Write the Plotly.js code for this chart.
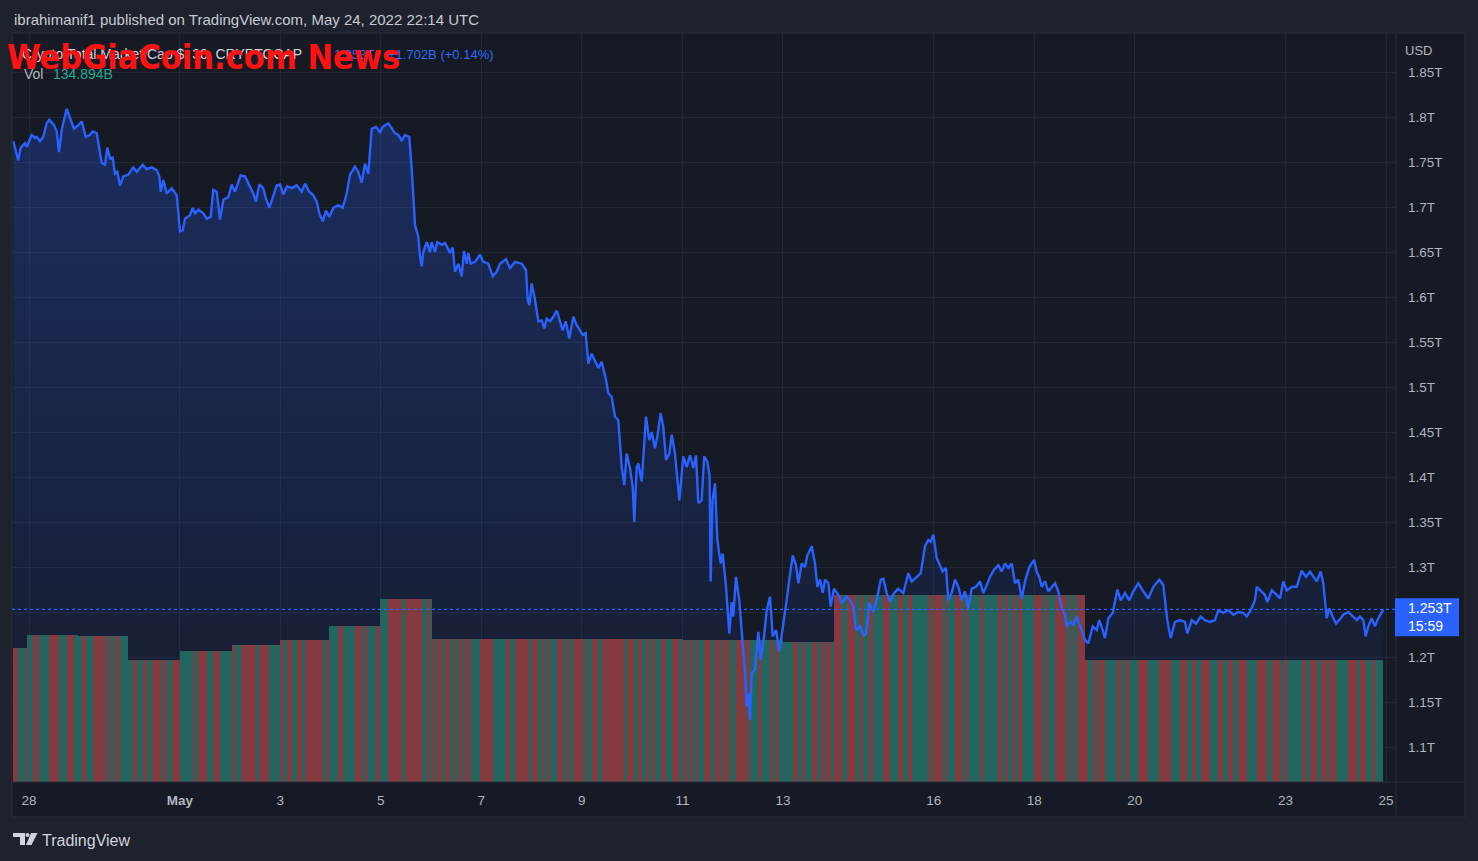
<!DOCTYPE html>
<html><head><meta charset="utf-8">
<script src="https://cdn.plot.ly/plotly-3.0.1.min.js"></script>
<style>html,body{margin:0;padding:0;background:#1e222d;overflow:hidden}#chart{width:1478px;height:861px}</style>
</head><body><div id="chart"></div>
<script>
// ---- DATA: Crypto Total Market Cap (T USD), time = days since 2022-04-28 00:00 ----
const dayOffset = [
-0.312,-0.213,-0.165,-0.080,-0.046,0.054,0.119,0.153,0.219,0.285,0.352,0.404,0.497,0.551,0.597,0.651,0.750,0.816,0.895,0.981,
1.049,1.128,1.214,1.267,1.347,1.447,1.512,1.558,1.612,1.665,1.711,1.757,1.811,1.876,1.976,2.075,2.143,2.262,2.342,2.441,
2.541,2.593,2.620,2.672,2.740,2.839,2.939,3.004,3.058,3.104,3.203,3.257,3.303,3.369,3.468,3.536,3.615,3.667,3.735,3.800,
3.866,3.966,4.033,4.099,4.144,4.212,4.298,4.383,4.463,4.516,4.582,4.662,4.709,4.781,4.849,4.928,4.994,5.060,5.139,5.227,
5.326,5.426,5.492,5.577,5.657,5.724,5.776,5.844,5.909,5.975,6.055,6.154,6.241,6.321,6.387,6.486,6.552,6.620,6.685,6.751,
6.819,6.904,6.984,7.037,7.149,7.216,7.282,7.348,7.415,7.481,7.566,7.614,7.680,7.746,
7.780,7.813,7.845,7.913,7.979,8.012,8.078,8.124,8.211,8.277,
8.376,8.430,8.476,8.542,8.609,8.655,8.709,8.741,8.788,8.874,
8.973,9.039,9.138,9.226,9.305,9.371,9.491,9.570,9.670,9.803,
9.889,9.922,9.954,10.002,10.068,10.134,10.201,10.253,10.300,10.366,
10.432,10.500,10.565,10.619,10.679,10.750,10.830,10.897,10.963,11.017,
11.076,11.128,11.196,11.261,11.327,11.395,11.480,11.526,11.594,11.659,
11.725,11.793,11.844,11.892,11.958,12.012,12.043,12.091,12.123,12.191,
12.276,12.342,12.390,12.455,12.501,12.569,12.620,12.674,12.740,12.788,
12.853,12.939,13.018,13.086,13.152,13.217,13.271,13.317,13.384,13.434,
13.496,13.540,13.563,13.599,13.649,13.695,13.762,13.802,13.868,13.934,
13.981,14.013,14.067,14.133,14.200,14.246,14.280,14.312,14.346,14.379,
14.445,14.511,14.559,14.624,14.678,14.744,14.797,14.863,14.929,14.997,
15.062,15.127,15.195,15.261,15.307,15.374,15.440,15.486,15.573,15.639,
15.685,15.738,15.792,15.838,15.904,15.951,16.017,16.103,16.170,16.270,
16.335,16.401,16.455,16.534,16.600,16.654,16.719,16.799,16.866,16.946,
16.998,17.066,17.131,17.211,17.296,17.396,17.495,17.563,17.662,17.742,
17.827,17.893,17.941,17.993,18.060,18.112,18.179,18.245,18.291,18.358,
18.424,18.490,18.558,18.623,18.689,18.757,18.842,18.922,18.988,19.056,
19.121,19.201,19.287,19.354,19.420,19.485,19.553,19.618,19.684,19.751,
19.817,19.903,19.996,20.050,20.101,20.149,20.215,20.281,20.349,20.414,
20.480,20.548,20.613,20.647,20.727,20.778,20.846,20.911,21.011,21.076,
21.164,21.243,21.295,21.363,21.409,21.475,21.562,21.654,21.721,21.807,
21.892,21.972,22.071,22.171,22.270,22.370,22.489,22.569,22.648,22.716,
22.801,22.901,23.000,23.046,23.133,23.219,23.313,23.398,23.498,23.597,
23.663,23.763,23.862,23.962,24.061,24.161,24.228,24.308,24.393,24.427,
24.507,24.592,24.638,24.726,24.825,24.891,24.956,25.024,25.123,25.223,
25.322,25.408,25.487,25.553,25.621,25.700,25.752,25.820,25.872,25.939,
26.005,26.071,26.150,26.250,26.349,26.417,26.482,26.548,26.596,26.648,
26.715,26.781,26.835,26.901,26.947];

const capT = [
1.773,1.752,1.766,1.771,1.767,1.780,1.777,1.778,1.773,1.778,1.793,1.797,1.791,1.784,1.761,1.786,1.809,1.799,1.787,1.791,
1.795,1.778,1.780,1.784,1.782,1.749,1.747,1.766,1.754,1.755,1.737,1.739,1.724,1.734,1.736,1.744,1.739,1.747,1.742,1.744,
1.741,1.734,1.717,1.730,1.715,1.721,1.713,1.673,1.674,1.687,1.691,1.699,1.693,1.697,1.693,1.687,1.689,1.719,1.717,1.686,
1.708,1.711,1.725,1.717,1.725,1.735,1.734,1.724,1.715,1.706,1.725,1.721,1.710,1.699,1.710,1.724,1.725,1.714,1.723,1.721,
1.724,1.717,1.726,1.717,1.713,1.706,1.693,1.684,1.696,1.689,1.699,1.702,1.699,1.715,1.736,1.745,1.739,1.727,1.748,1.737,
1.787,1.789,1.783,1.789,1.793,1.787,1.782,1.780,1.774,1.780,1.778,1.743,1.680,1.667,
1.645,1.634,1.650,1.661,1.650,1.661,1.650,1.661,1.658,1.660,
1.649,1.655,1.628,1.637,1.623,1.651,1.637,1.649,1.637,1.639,
1.647,1.639,1.637,1.623,1.628,1.637,1.642,1.632,1.639,1.637,
1.630,1.597,1.591,1.615,1.597,1.573,1.574,1.565,1.576,1.573,
1.578,1.585,1.574,1.563,1.573,1.554,1.578,1.569,1.563,1.558,
1.560,1.526,1.537,1.528,1.521,1.528,1.508,1.493,1.489,1.467,
1.463,1.411,1.391,1.426,1.410,1.389,1.350,1.411,1.415,1.395,
1.467,1.441,1.450,1.432,1.445,1.471,1.456,1.419,1.426,1.447,
1.426,1.374,1.423,1.411,1.424,1.410,1.424,1.371,1.374,1.423,
1.417,1.402,1.284,1.374,1.393,1.330,1.304,1.315,1.278,1.226,
1.261,1.245,1.289,1.263,1.219,1.182,1.145,1.160,1.130,1.182,
1.186,1.228,1.197,1.223,1.252,1.267,1.223,1.230,1.206,1.230,
1.258,1.286,1.313,1.302,1.282,1.304,1.300,1.313,1.323,1.304,
1.278,1.286,1.271,1.286,1.282,1.256,1.276,1.269,1.260,1.267,
1.263,1.256,1.230,1.234,1.224,1.226,1.260,1.250,1.263,1.286,
1.287,1.271,1.261,1.271,1.276,1.271,1.293,1.284,1.289,1.293,
1.323,1.330,1.328,1.336,1.310,1.304,1.295,1.299,1.263,1.271,
1.286,1.278,1.263,1.273,1.254,1.276,1.278,1.284,1.271,1.280,
1.289,1.297,1.302,1.295,1.304,1.299,1.304,1.282,1.286,1.265,
1.284,1.300,1.308,1.295,1.289,1.278,1.284,1.273,1.278,1.282,
1.273,1.254,1.247,1.234,1.239,1.236,1.245,1.234,1.219,1.215,
1.234,1.230,1.241,1.230,1.221,1.243,1.249,1.275,1.263,1.271,
1.263,1.273,1.282,1.273,1.265,1.278,1.286,1.280,1.241,1.221,
1.239,1.241,1.239,1.226,1.241,1.237,1.245,1.241,1.239,1.241,
1.252,1.249,1.252,1.247,1.250,1.249,1.245,1.252,1.263,1.278,
1.274,1.269,1.261,1.274,1.269,1.265,1.284,1.274,1.278,1.278,
1.296,1.289,1.295,1.289,1.284,1.295,1.282,1.243,1.254,1.245,
1.237,1.241,1.247,1.250,1.245,1.241,1.245,1.241,1.223,1.234,
1.243,1.234,1.242,1.249,1.253];

// daily volume (B USD)
const volDates = ['2022-04-27','2022-04-28','2022-04-29','2022-04-30','2022-05-01','2022-05-02','2022-05-03','2022-05-04',
'2022-05-05','2022-05-06','2022-05-07','2022-05-08','2022-05-09','2022-05-10','2022-05-11','2022-05-12','2022-05-13',
'2022-05-14','2022-05-15','2022-05-16','2022-05-17','2022-05-18','2022-05-19','2022-05-20','2022-05-21','2022-05-22',
'2022-05-23','2022-05-24'];
const volB = [148,163,161,135,145,151,157,172,202,158,158,158,158,158,157,157,155,207,207,207,207,207,135,135,135,135,135,135];

const xTickDates = ['2022-04-28','2022-05-01','2022-05-03','2022-05-05','2022-05-07','2022-05-09','2022-05-11',
'2022-05-13','2022-05-16','2022-05-18','2022-05-20','2022-05-23','2022-05-25'];
const xTickText = ['28','<b>May</b>','3','5','7','9','11','13','16','18','20','23','25'];
const yTickVals = [1.1,1.15,1.2,1.25,1.3,1.35,1.4,1.45,1.5,1.55,1.6,1.65,1.7,1.75,1.8,1.85];
const yTickText = ['1.1T','1.15T','1.2T','','1.3T','1.35T','1.4T','1.45T','1.5T','1.55T','1.6T','1.65T','1.7T','1.75T','1.8T','1.85T'];
const lastPrice = 1.253;

if (dayOffset.length !== capT.length) throw new Error('len mismatch ' + dayOffset.length + ' ' + capT.length);

// ---- build ----
const BASE = Date.UTC(2022, 3, 28);
function toDate(d){ return new Date(BASE + d*864e5).toISOString().replace('T',' ').slice(0,19); }
const times = dayOffset.map(toDate);
const volMap = {}; volDates.forEach((d,i)=>volMap[d]=volB[i]);

const vx=[], vy=[], vw=[], vc=[];
for (let i=1;i<dayOffset.length;i++){
  const a=dayOffset[i-1], b=dayOffset[i], m=(a+b)/2;
  vx.push(toDate(m));
  vw.push((b-a)*864e5);
  vy.push(volMap[toDate(Math.floor(m)).slice(0,10)]);
  vc.push(capT[i]>=capT[i-1] ? '#23665f' : '#853a40');
}

// layout geometry (pixels of the 1478x861 page)
const L=12, R=1396, T=33, B=782;
const W=R-L, H=B-T;
const px = x => (x-L)/W;
const py = y => (B-y)/H;
const yMin=(1737-B)/900, yMax=(1737-T)/900;
const xMin=toDate((L-29)/50.26), xMax=toDate((R-29)/50.26);
const font='Liberation Sans, Arial, sans-serif';

const traces = [
  { x: times, y: capT, type:'scatter', mode:'none', fill:'tozeroy',
    fillgradient:{type:'vertical', start:yMin, stop:1.82,
      colorscale:[[0,'rgba(41,98,255,0.03)'],[1,'rgba(41,98,255,0.27)']]},
    hoverinfo:'skip', xaxis:'x', yaxis:'y' },
  { x: vx, y: vy, width: vw, type:'bar', marker:{color: vc, line:{width:0}},
    xaxis:'x', yaxis:'y2', hoverinfo:'skip' },
  { x: times, y: capT, type:'scatter', mode:'lines', line:{color:'#2962ff', width:2.4},
    xaxis:'x', yaxis:'y3' }
];

function ann(x,y,text,opt){ return Object.assign({xref:'paper',yref:'paper',x:px(x),y:py(y),text:text,
  showarrow:false,xanchor:'left',yanchor:'middle',font:{family:font,size:13,color:'#b2b5be'}},opt||{}); }

const annotations = [
  ann(12,19,'ibrahimanif1 published on TradingView.com, May 24, 2022 22:14 UTC',{font:{family:font,size:15,color:'#c8cad2'}}),
  ann(20,54,'Crypto Total Market Cap $, 30, CRYPTOCAP',{font:{family:font,size:14,color:'#d1d4dc'}}),
  ann(332,54,'1.253T',{font:{family:font,size:13,color:'#2e6bff'}}),
  ann(386,54,'+1.702B (+0.14%)',{font:{family:font,size:13,color:'#2e6bff'}}),
  ann(22,74,'Vol',{font:{family:font,size:14,color:'#b2b5be'}}),
  ann(51,74,'134.894B',{font:{family:font,size:14,color:'#22ab94'}}),
  ann(5,57,'WebGiaCoin.com News',{font:{family:'Liberation Sans Narrow, DejaVu Sans Condensed, Arial Narrow, sans-serif',size:34,color:'#ff1212',weight:'bold'}}),
  ann(1403,50,'USD',{font:{family:font,size:13,color:'#b2b5be'}}),
  ann(40,840,'TradingView',{font:{family:font,size:16,color:'#d1d4dc'}}),
  {xref:'paper',yref:'y',x:px(1406),y:lastPrice,yanchor:'middle',yshift:-8,xanchor:'left',
   text:'1.253T<br>15:59',showarrow:false,align:'left',
   font:{family:font,size:14,color:'#ffffff'}}
];

const frameCol='#2a2e39';
function path(pts){ return 'M'+pts.map(p=>px(p[0])+','+py(p[1])).join(' L')+' Z'; }
const shapes = [
  {type:'rect',xref:'paper',yref:'paper',x0:px(L),x1:px(1465),y0:py(817),y1:py(T),fillcolor:'#161a25',line:{width:0},layer:'below'},
  {type:'rect',xref:'paper',yref:'paper',x0:px(L),x1:px(1465),y0:py(817),y1:py(T),line:{color:frameCol,width:1},layer:'above'},
  {type:'line',xref:'paper',yref:'paper',x0:1,x1:1,y0:py(817),y1:py(T),line:{color:frameCol,width:1}},
  {type:'line',xref:'paper',yref:'paper',x0:0,x1:px(1465),y0:0,y1:0,line:{color:frameCol,width:1}},
  {type:'line',xref:'paper',yref:'y',x0:0,x1:1,y0:lastPrice,y1:lastPrice,line:{color:'#2962ff',width:1.2,dash:'dot'},layer:'above'},
  // last-price box on the price scale
  {type:'rect',xref:'paper',yref:'y',ysizemode:'pixel',yanchor:lastPrice,x0:px(1395),x1:px(1459),y0:-27,y1:11,
   fillcolor:'#2962ff',line:{width:0},layer:'above'},
  // TradingView logo
  {type:'path',xref:'paper',yref:'paper',path:path([[13,833],[25,833],[25,845],[20,845],[20,837],[13,837]]),fillcolor:'#d1d4dc',line:{width:0}},
  {type:'circle',xref:'paper',yref:'paper',x0:px(25.5),x1:px(29.5),y0:py(837),y1:py(833),fillcolor:'#d1d4dc',line:{width:0}},
  {type:'path',xref:'paper',yref:'paper',path:path([[31,833],[37.5,833],[31.5,845],[26,845]]),fillcolor:'#d1d4dc',line:{width:0}}
];

const axisFont={family:font,size:13.5,color:'#b2b5be'};
const layout = {
  width:1478, height:861,
  margin:{l:L,r:1478-R,t:T,b:861-B,pad:0},
  paper_bgcolor:'#1e222d', plot_bgcolor:'#161a25',
  showlegend:false, bargap:0, barmode:'overlay',
  xaxis:{type:'date', range:[xMin,xMax], tickvals:xTickDates, ticktext:xTickText, tickfont:axisFont,
    showgrid:true, gridcolor:'#232733', gridwidth:1, zeroline:false, showline:false, ticks:'', ticklabelstandoff:8, fixedrange:true},
  yaxis:{range:[yMin,yMax], side:'right', tickvals:yTickVals, ticktext:yTickText, tickfont:axisFont,
    showgrid:true, gridcolor:'#232733', zeroline:false, showline:false, ticks:'', ticklabelstandoff:11, fixedrange:true},
  yaxis2:{overlaying:'y', range:[0, H*1.1057], visible:false, fixedrange:true},
  yaxis3:{overlaying:'y', range:[yMin,yMax], visible:false, fixedrange:true},
  annotations: annotations, shapes: shapes
};
Plotly.newPlot('chart', traces, layout, {displayModeBar:false, staticPlot:true});
</script></body></html>
